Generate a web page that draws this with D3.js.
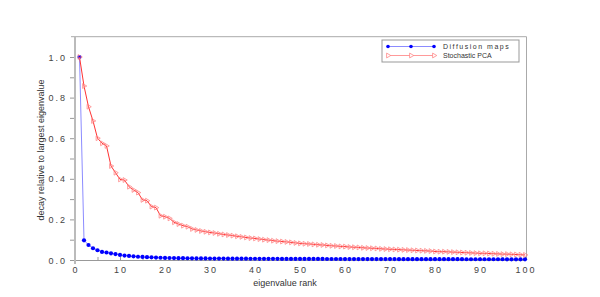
<!DOCTYPE html>
<html>
<head>
<meta charset="utf-8">
<script src="https://cdn.jsdelivr.net/npm/d3@7"></script>
<style>
  body { margin: 0; background: #fff; }
  text { font-family: "Liberation Sans", Arial, sans-serif; fill: #333; }
</style>
</head>
<body>
<div id="chart"></div>
<script>
// eigenvalue decay
const ranks = d3.range(1, 101)

const diffusionMaps = [
  1.000, 0.097, 0.074, 0.058, 0.048, 0.040, 0.037, 0.033, 0.029, 0.025,
  0.022, 0.020, 0.018, 0.016, 0.015, 0.014, 0.013, 0.012, 0.011, 0.010,
  0.0098, 0.0095, 0.0092, 0.0089, 0.0086, 0.0083, 0.0080, 0.0078, 0.0076, 0.0074,
  0.0072, 0.0070, 0.0068, 0.0067, 0.0066, 0.0065, 0.0064, 0.0063, 0.0062, 0.0061,
  0.0060, 0.0059, 0.0058, 0.0057, 0.0056, 0.0055, 0.0055, 0.0054, 0.0054, 0.0053,
  0.0053, 0.0052, 0.0052, 0.0051, 0.0051, 0.0050, 0.0050, 0.0049, 0.0049, 0.0048,
  0.0048, 0.0047, 0.0047, 0.0046, 0.0046, 0.0045, 0.0045, 0.0045, 0.0044, 0.0044,
  0.0044, 0.0043, 0.0043, 0.0043, 0.0042, 0.0042, 0.0042, 0.0041, 0.0041, 0.0041,
  0.0040, 0.0040, 0.0040, 0.0039, 0.0039, 0.0039, 0.0038, 0.0038, 0.0038, 0.0037,
  0.0037, 0.0037, 0.0036, 0.0036, 0.0036, 0.0035, 0.0035, 0.0035, 0.0034, 0.0034
]

const stochasticPCA = [
  1.000, 0.857, 0.755, 0.685, 0.600, 0.575, 0.562, 0.463, 0.430, 0.397,
  0.394, 0.361, 0.345, 0.332, 0.296, 0.292, 0.263, 0.258, 0.218, 0.213,
  0.205, 0.186, 0.177, 0.169, 0.164, 0.153, 0.148, 0.143, 0.139, 0.136,
  0.133, 0.129, 0.126, 0.123, 0.120, 0.117, 0.114, 0.111, 0.108, 0.106,
  0.103, 0.100, 0.098, 0.095, 0.093, 0.091, 0.089, 0.087, 0.084, 0.082,
  0.080, 0.079, 0.077, 0.075, 0.074, 0.072, 0.070, 0.069, 0.067, 0.066,
  0.064, 0.063, 0.062, 0.060, 0.059, 0.058, 0.057, 0.055, 0.054, 0.053,
  0.052, 0.051, 0.050, 0.049, 0.048, 0.047, 0.046, 0.045, 0.044, 0.042,
  0.041, 0.041, 0.040, 0.039, 0.038, 0.037, 0.036, 0.035, 0.034, 0.033,
  0.033, 0.032, 0.031, 0.030, 0.029, 0.029, 0.028, 0.027, 0.026, 0.025
]

const xTicks = [0, 10, 20, 30, 40, 50, 60, 70, 80, 90, 100]
const yTicks = [0.0, 0.2, 0.4, 0.6, 0.8, 1.0]
const seriesNames = ["Diffusion maps", "Stochastic PCA"]

const width = 600, height = 297
const plotLeft = 75, plotRight = 525, plotBottom = 260, plotTop = 36.7

const svg = d3.select("#chart").append("svg")
  .attr("width", width)
  .attr("height", height)

const x = d3.scaleLinear().domain([0, 100]).range([plotLeft, plotRight])
const y = d3.scaleLinear().domain([0, 1.1]).range([plotBottom, plotTop])

// frame: top and right border
svg.append("path")
  .attr("d", `M${plotLeft - 4},${plotTop}H${plotRight + 1.5}V${plotBottom}`)
  .attr("fill", "none")
  .attr("stroke", "#aaa")
  .attr("stroke-width", 1)

// x axis, ticks pointing inward
let xAxis = svg.append("g")
  .attr("transform", `translate(0,${plotBottom})`)
  .call(d3.axisBottom(x).tickValues(d3.range(0, 101, 5)).tickSize(-3).tickFormat(""))
xAxis.select(".domain").attr("stroke", "#999")
xAxis.selectAll(".tick line").attr("stroke", "#999")

svg.append("g").selectAll("text")
  .data(xTicks)
  .enter().append("text")
  .attr("x", d => x(d) + 1)
  .attr("y", 273)
  .attr("text-anchor", "middle")
  .style("font-size", "9px")
  .style("letter-spacing", "2px")
  .style("fill", "#444")
  .text(d => d)

// y axis, ticks to the left
let yAxis = svg.append("g")
  .attr("transform", `translate(${plotLeft},0)`)
  .call(d3.axisLeft(y).tickValues(d3.range(0, 11).map(i => i / 10)).tickSize(5).tickFormat(""))
yAxis.select(".domain").remove()
yAxis.selectAll(".tick line").attr("stroke", "#999")
svg.append("line")
  .attr("x1", plotLeft).attr("x2", plotLeft)
  .attr("y1", plotTop).attr("y2", plotBottom + 4)
  .attr("stroke", "#bbb")
  .attr("stroke-width", 2)

svg.append("g").selectAll("text")
  .data(yTicks)
  .enter().append("text")
  .attr("x", 67)
  .attr("y", d => y(d) + 3.5)
  .attr("text-anchor", "end")
  .style("font-size", "9px")
  .style("letter-spacing", "2px")
  .style("fill", "#444")
  .text(d => d.toFixed(1))

// axis titles
svg.append("text")
  .attr("x", 285)
  .attr("y", 286)
  .attr("text-anchor", "middle")
  .style("font-size", "9px")
  .text("eigenvalue rank")

svg.append("text")
  .attr("transform", "translate(44,150) rotate(-90)")
  .attr("text-anchor", "middle")
  .style("font-size", "9px")
  .text("decay relative to largest eigenvalue")

const tri = d3.symbol().type(d3.symbolTriangle).size(10)
const seriesLine = d3.line().x((d, i) => x(ranks[i])).y(d => y(d))

// Diffusion maps
svg.append("path")
  .datum(diffusionMaps)
  .attr("d", seriesLine)
  .attr("fill", "none")
  .attr("stroke", "#8c8cff")
  .attr("stroke-width", 1)

svg.append("g").selectAll("circle")
  .data(diffusionMaps)
  .enter().append("circle")
  .attr("cx", (d, i) => x(ranks[i]))
  .attr("cy", d => y(d))
  .attr("r", 2.1)
  .attr("fill", "#00f")

// Stochastic PCA
svg.append("path")
  .datum(stochasticPCA)
  .attr("d", seriesLine)
  .attr("fill", "none")
  .attr("stroke", "#f33")
  .attr("stroke-width", 1)

svg.append("g").selectAll("path")
  .data(stochasticPCA)
  .enter().append("path")
  .attr("d", tri)
  .attr("transform", (d, i) => `translate(${x(ranks[i])},${y(d)}) rotate(90)`)
  .attr("fill", "none")
  .attr("stroke", "#ff8585")
  .attr("stroke-width", 0.8)

// legend
const legend = svg.append("g")
legend.append("rect")
  .attr("x", 382).attr("y", 40)
  .attr("width", 137).attr("height", 22)
  .attr("fill", "#fff")
  .attr("stroke", "#999")
  .attr("stroke-width", 1)

const legendRows = [
  { name: seriesNames[0], line: "#8c8cff", y: 46.5, spacing: "1.5px" },
  { name: seriesNames[1], line: "#ff9a9a", y: 55.5, spacing: "0px" }
]
legendRows.forEach((row, k) => {
  legend.append("line")
    .attr("x1", 388).attr("x2", 434)
    .attr("y1", row.y).attr("y2", row.y)
    .attr("stroke", row.line)
  ;[388, 411, 434].forEach(px => {
    if (k == 0) {
      legend.append("circle").attr("cx", px).attr("cy", row.y).attr("r", 1.8).attr("fill", "#00f")
    } else {
      legend.append("path").attr("d", tri)
        .attr("transform", `translate(${px},${row.y}) rotate(90)`)
        .attr("fill", "#fff").attr("stroke", "#ff8585").attr("stroke-width", 0.8)
    }
  })
  legend.append("text")
    .attr("x", 443)
    .attr("y", row.y + 2.5)
    .style("font-size", "7px")
    .style("letter-spacing", row.spacing)
    .text(row.name)
})
</script>
</body>
</html>
